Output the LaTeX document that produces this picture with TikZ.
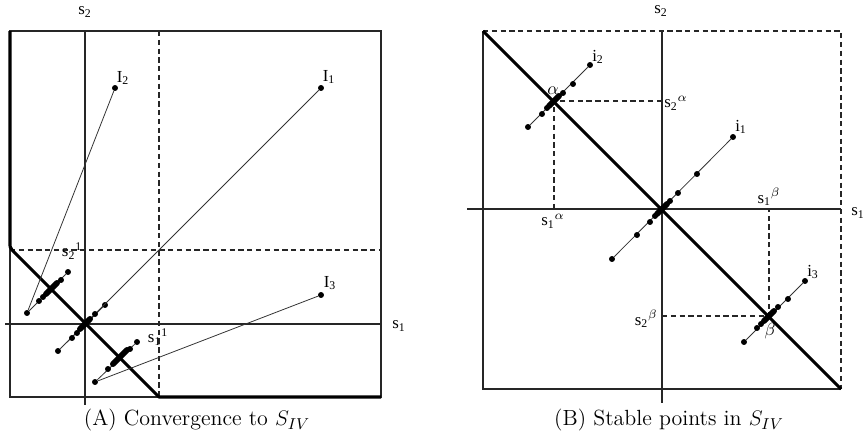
\documentclass[tikz,border=0pt]{standalone}
\usepackage{fontspec}
\newfontfamily\lblfont{Liberation Serif}
\usetikzlibrary{positioning}

\begin{document}
\begin{tikzpicture}[x=0.02cm, y=-0.02cm,
  frame/.style={line width=0.7pt, draw=black!85},
  axis/.style={line width=0.6pt, draw=black!85},
  guide/.style={line width=0.6pt, dash pattern=on 3pt off 2pt, draw=black!85},
  heavy/.style={line width=1.8pt, line join=round},
  traj/.style={line width=0.45pt, draw=black!80},
  cluster/.style={line width=3.4pt, line cap=round},
  dot/.style={circle, fill=black, inner sep=0pt, minimum size=3.4pt},
  lbl/.style={inner sep=0pt, font=\lblfont\fontsize{9.6}{10}\selectfont},
  caption/.style={inner sep=0pt, font=\fontsize{12.5}{14}\selectfont}
]
\useasboundingbox (0,0) rectangle (863,436);

% ---- (A) convergence ----
\coordinate (aNW) at (10,31);
\coordinate (aSE) at (381,397);
\coordinate (aO) at (85,324);
\coordinate (aBend) at (10,243);
\coordinate (aKnee) at (12,250);
\coordinate (aFoot) at (159,397);
\coordinate (aTop) at (85,31);
\coordinate (aBot) at (85,405);
\coordinate (aLeft) at (5,324);
\coordinate (aRight) at (381,324);
\coordinate (aDashN) at (159,31);
\coordinate (aDashW) at (10,250);
\coordinate (aDashE) at (381,250);

\draw[frame] (aNW) rectangle (aSE);
\draw[axis] (aTop) -- (aBot);
\draw[axis] (aLeft) -- (aRight);
\draw[guide] (aDashN) -- (aFoot);
\draw[guide] (aDashW) -- (aDashE);
\draw[heavy] (aNW) -- (aBend) .. controls (10,247) .. (aKnee) -- (aFoot) -- (aSE);

\node[dot] (I1) at (321,88) {};
\node[dot] (I2) at (115,88) {};
\node[dot] (I3) at (321,295) {};
\node[dot] (p1) at (58,351) {};
\node[dot] (p2) at (27,313) {};
\node[dot] (p3) at (95,382) {};
\node[dot] (e1) at (105,305) {};
\node[dot] (e2) at (68,272) {};
\node[dot] (e3) at (137,342) {};

\draw[traj] (I1) -- (p1) -- (e1);
\draw[traj] (I2) -- (p2) -- (e2);
\draw[traj] (I3) -- (p3) -- (e3);

\draw[cluster] (80,329) -- (90,319);
\draw[cluster] (46,294) -- (57,283);
\draw[cluster] (113,364) -- (127,350);
\foreach \p in {(72,338),(77,333),(95,314),
                (39,301),(43,297),(61,280),
                (108,369),(130,349)}
  \node[dot] at \p {};

\node[lbl] (s2A) at (85,12) {s\textsubscript{2}};
\node[lbl] (s1A) at (399,326) {s\textsubscript{1}};
\node[lbl] (lI1) at (329,77) {I\textsubscript{1}};
\node[lbl] (lI2) at (123,78) {I\textsubscript{2}};
\node[lbl] (lI3) at (330,283) {I\textsubscript{3}};
\node[lbl] (s21) at (72,251) {s\textsubscript{2}\textsuperscript{1}};
\node[lbl] (s11) at (158,337) {s\textsubscript{1}\textsuperscript{1}};

\node[caption] (capA) at (197,420) {(A) Convergence to $S_{IV}$};

% ---- (B) stable points ----
\coordinate (bNW) at (483,31);
\coordinate (bNE) at (841,31);
\coordinate (bSE) at (841,389);
\coordinate (bSW) at (483,389);
\coordinate (bO) at (662,209);
\coordinate (bTop) at (662,31);
\coordinate (bBot) at (662,403);
\coordinate (bLeft) at (467,209);
\coordinate (bRight) at (841,209);

\draw[frame] (bNW) -- (bSW) -- (bSE);
\draw[guide] (bNW) -- (bNE) -- (bSE);
\draw[axis] (bTop) -- (bBot);
\draw[axis] (bLeft) -- (bRight);
\draw[heavy] (bNW) -- (bSE);

\coordinate (alpha) at (554,101);
\coordinate (beta) at (769,316);
\draw[guide] (bO |- alpha) -- (alpha) -- (alpha |- bO);
\draw[guide] (bO |- beta) -- (beta) -- (beta |- bO);

\node[dot] (i1) at (733,137) {};
\node[dot] (i2) at (590,65) {};
\node[dot] (i3) at (805,281) {};
\node[dot] (q1) at (612,259) {};
\node[dot] (q2) at (528,127) {};
\node[dot] (q3) at (744,342) {};

\draw[traj] (q1) -- (i1);
\draw[traj] (q2) -- (i2);
\draw[traj] (q3) -- (i3);

\draw[cluster] (657,214) -- (667,204);
\draw[cluster] (549,106) -- (559,96);
\draw[cluster] (764,321) -- (774,311);
\foreach \p in {(637,235),(650,222),(655,216),(670,201),(678,193),(697,174),
                (542,114),(547,108),(563,93),(573,84),
                (757,328),(761,324),(778,307),(788,299)}
  \node[dot] at \p {};

\node[lbl] (s2B) at (661,11) {s\textsubscript{2}};
\node[lbl, anchor=west] (s1B) at (851,213) {s\textsubscript{1}};
\node[lbl] (li1) at (741,127) {i\textsubscript{1}};
\node[lbl] (li2) at (598,57) {i\textsubscript{2}};
\node[lbl] (li3) at (813,272) {i\textsubscript{3}};
\node[lbl] (la) at (553,91) {$\alpha$};
\node[lbl] (lb) at (770,331) {$\beta$};
\node[lbl, anchor=west] (s2a) at (664,103) {s\textsubscript{2}\textsuperscript{$\alpha$}};
\node[lbl] (s1a) at (553,221) {s\textsubscript{1}\textsuperscript{$\alpha$}};
\node[lbl] (s1b) at (769,197) {s\textsubscript{1}\textsuperscript{$\beta$}};
\node[lbl, anchor=east] (s2b) at (658,319) {s\textsubscript{2}\textsuperscript{$\beta$}};

\node[caption] (capB) at (669,420) {(B) Stable points in $S_{IV}$};
\end{tikzpicture}
\end{document}
